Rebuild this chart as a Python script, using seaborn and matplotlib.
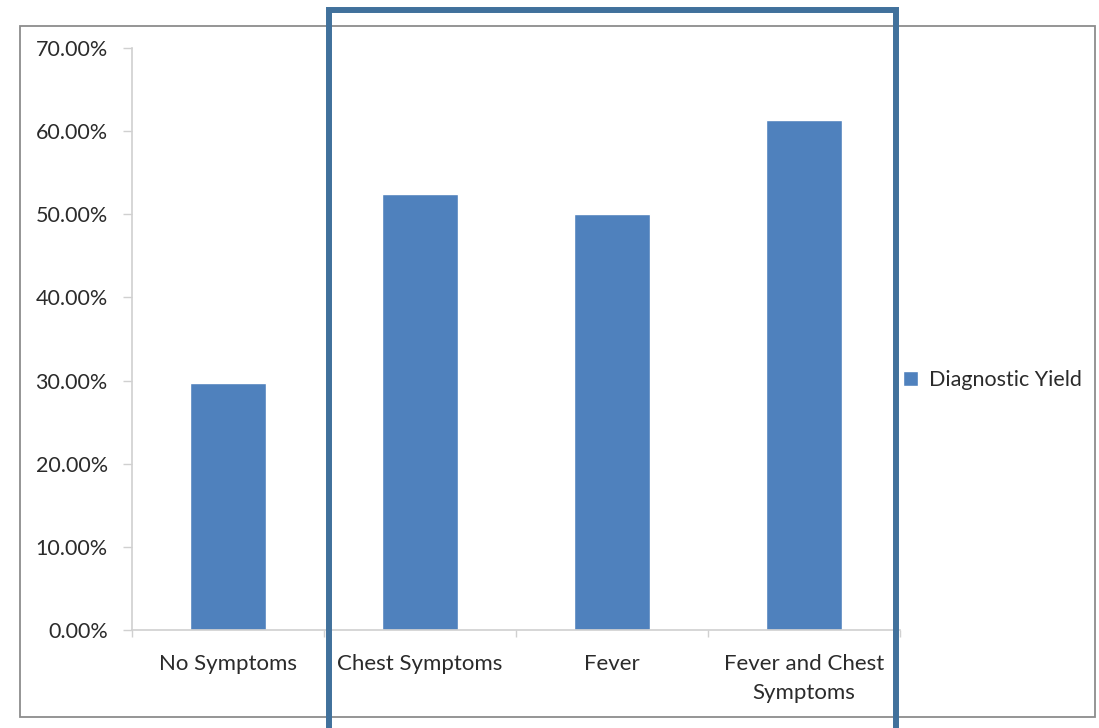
import numpy as np
import matplotlib
matplotlib.use("Agg")
import matplotlib.pyplot as plt
import seaborn as sns
from matplotlib.patches import Rectangle
from matplotlib.ticker import FuncFormatter, FixedLocator

categories = ["No Symptoms", "Chest Symptoms", "Fever", "Fever and Chest\nSymptoms"]
yield_pct = [29.7, 52.4, 50.0, 61.3]
series_name = "Diagnostic Yield"
yticks = [0, 10, 20, 30, 40, 50, 60, 70]

sns.set_style("white")
plt.rcParams["font.family"] = ["Lato", "DejaVu Sans"]
text_col = "#2B2B2B"
axis_col = "#D0D0D0"
bar_col = "#4F81BD"

fig = plt.figure(figsize=(10.99, 7.28), dpi=100)
W, H = 1099, 728
ax = fig.add_axes([132 / W, 1 - 630 / H, (900 - 132) / W, (630 - 48) / H])

sns.barplot(x=categories, y=yield_pct, color=bar_col, width=0.4, saturation=1,
            label=series_name, ax=ax)

ax.set_xlim(-0.5, 3.5)
ax.set_ylim(0, 70)
ax.set_yticks(yticks)
ax.yaxis.set_major_formatter(FuncFormatter(lambda v, p: f"{v:.2f}%"))
ax.xaxis.set_minor_locator(FixedLocator(np.arange(-0.5, 4, 1)))

for s in ["top", "right"]:
    ax.spines[s].set_visible(False)
for s in ["left", "bottom"]:
    ax.spines[s].set_color(axis_col)
    ax.spines[s].set_linewidth(1.2)

ax.tick_params(axis="y", which="major", direction="out", length=6.5, width=1,
               color=axis_col, pad=11, labelsize=15.5, labelcolor=text_col, left=True)
ax.tick_params(axis="x", which="major", length=0, pad=17, labelsize=16,
               labelcolor=text_col)
ax.tick_params(axis="x", which="minor", direction="out", length=5, width=1,
               color=axis_col, bottom=True)
for t in ax.get_xticklabels():
    t.set_linespacing(1.6)
    t.set_verticalalignment("top")
ax.set_xlabel("")
ax.set_ylabel("")
ax.grid(False)

ax.legend(loc="center left", bbox_to_anchor=(903 / W, 1 - 380 / H),
          bbox_transform=fig.transFigure, frameon=False, fontsize=15.5,
          handlelength=0.7, handleheight=0.7, handletextpad=0.5,
          borderaxespad=0, borderpad=0, labelcolor=text_col)

# chart-area border
fig.patches.append(Rectangle((20 / W, 1 - 717 / H), (1095 - 20) / W, (717 - 26) / H,
                             transform=fig.transFigure, fill=False,
                             edgecolor="#8C8C8C", linewidth=1.3, zorder=0))
# highlight box
fig.patches.append(Rectangle((329 / W, -0.05), (896 - 329) / W, 1.05 - 10.5 / H,
                             transform=fig.transFigure, fill=False,
                             edgecolor="#41719C", linewidth=4.3, zorder=5,
                             clip_on=False))

fig.savefig("out.png", dpi=100)
